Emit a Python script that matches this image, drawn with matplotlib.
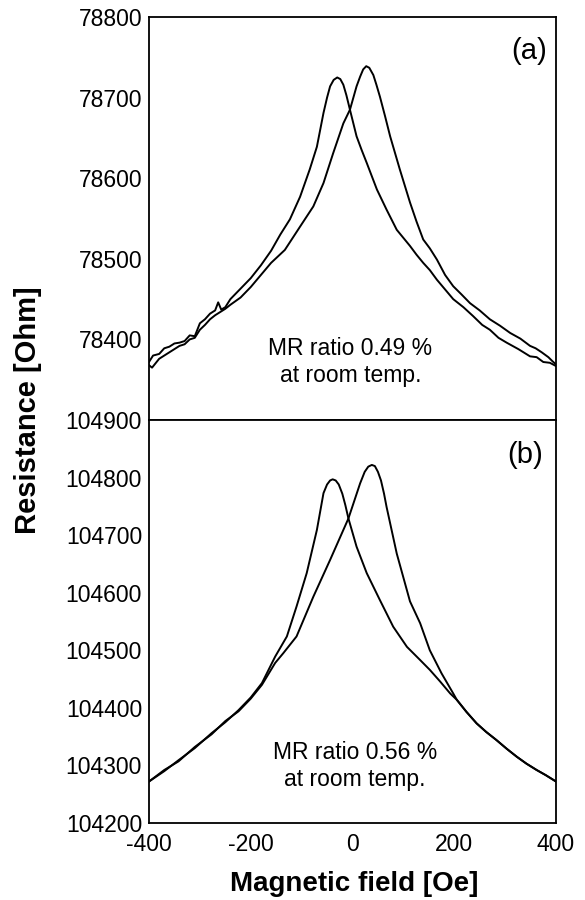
import matplotlib
matplotlib.use('Agg')
import matplotlib.pyplot as plt

plt.rcParams['font.family'] = ['Liberation Sans', 'DejaVu Sans']

# ---- panel (a): field sweep, peak on the negative side ----
a_left_x = [-400, -392, -380, -370, -360, -350, -340, -330, -320, -310, -300, -290, -280,
            -270, -264, -258, -250, -240, -220, -200, -180, -160, -142, -123, -103, -84,
            -70, -57, -50, -44, -37, -30, -24, -18, -12, -5, 8, 18, 28, 48, 67, 87, 100,
            113, 126, 139, 152, 166, 182, 198, 218, 237, 255, 270, 287, 303, 326, 349,
            362, 375, 388, 400]
a_left_y = [78372, 78380, 78382, 78389, 78391, 78395, 78396, 78398, 78405, 78404, 78420, 78425,
            78432, 78436, 78446, 78437, 78440, 78450, 78463, 78476, 78492, 78510, 78530, 78549,
            78577, 78611, 78639, 78681, 78700, 78714, 78722, 78725, 78723, 78716, 78703, 78685,
            78652, 78635, 78619, 78586, 78561, 78536, 78526, 78516, 78505, 78495, 78486, 78474,
            78462, 78450, 78440, 78429, 78418, 78412, 78402, 78396, 78388, 78379, 78378, 78372,
            78371, 78367]

# ---- panel (a): field sweep, peak on the positive side ----
a_right_x = [-400, -394, -380, -370, -360, -350, -340, -330, -320, -310, -300, -290, -280,
             -270, -260, -250, -240, -220, -200, -180, -160, -133, -103, -77, -57, -38, -18,
             -5, 8, 15, 21, 27, 33, 41, 47, 54, 64, 74, 93, 113, 126, 139, 152, 166, 182, 198,
             214, 231, 250, 270, 290, 310, 330, 349, 360, 372, 385, 393, 400]
a_right_y = [78368, 78365, 78376, 78380, 78384, 78388, 78392, 78394, 78400, 78402, 78412, 78418,
             78425, 78430, 78434, 78438, 78443, 78452, 78465, 78480, 78495, 78511, 78540, 78565,
             78594, 78631, 78668, 78685, 78714, 78726, 78735, 78739, 78737, 78728, 78716, 78701,
             78677, 78652, 78611, 78570, 78546, 78524, 78513, 78499, 78480, 78466, 78456, 78445,
             78436, 78425, 78417, 78408, 78401, 78392, 78389, 78384, 78378, 78373, 78369]

# ---- panel (b) ----
b_left_x = [-400, -370, -342, -310, -277, -250, -224, -200, -178, -152, -129, -110, -90, -70,
            -57, -50, -44, -39, -33, -27, -20, -14, -8, 8, 28, 54, 80, 107, 133, 152, 172, 192,
            205, 224, 244, 263, 283, 303, 323, 342, 362, 380, 400]
b_left_y = [104272, 104290, 104309, 104330, 104356, 104375, 104396, 104418, 104443, 104489,
            104524, 104576, 104634, 104709, 104773, 104788, 104795, 104797, 104795, 104788,
            104772, 104752, 104729, 104680, 104634, 104587, 104541, 104506, 104483, 104466,
            104446, 104425, 104414, 104393, 104373, 104358, 104344, 104329, 104315, 104303,
            104292, 104283, 104272]

b_right_x = [-400, -370, -342, -310, -277, -250, -224, -200, -178, -152, -136, -110, -77, -44,
             -8, 15, 24, 31, 38, 44, 50, 56, 62, 67, 87, 113, 133, 152, 175, 198, 205, 224, 244,
             263, 283, 303, 323, 342, 362, 380, 400]
b_right_y = [104272, 104292, 104307, 104332, 104354, 104377, 104394, 104416, 104440, 104478,
             104495, 104524, 104593, 104657, 104729, 104790, 104810, 104819, 104822, 104820,
             104810, 104795, 104772, 104749, 104668, 104585, 104547, 104500, 104460, 104425,
             104414, 104393, 104373, 104358, 104344, 104329, 104315, 104303, 104292, 104283,
             104272]

a_ticks = [78400, 78500, 78600, 78700, 78800]
b_ticks = [104200, 104300, 104400, 104500, 104600, 104700, 104800, 104900]
x_ticks = [-400, -200, 0, 200, 400]

fig = plt.figure(figsize=(5.85, 9), dpi=100)
ax1 = fig.add_axes([0.2547, 0.5333, 0.6957, 0.4478])
ax2 = fig.add_axes([0.2547, 0.0856, 0.6957, 0.4477])

ax1.plot(a_left_x, a_left_y, color='black', linewidth=1.4)
ax1.plot(a_right_x, a_right_y, color='black', linewidth=1.4)
ax2.plot(b_left_x, b_left_y, color='black', linewidth=1.4)
ax2.plot(b_right_x, b_right_y, color='black', linewidth=1.4)

ax1.set_xlim(-400, 400)
ax1.set_ylim(78300, 78800)
ax1.set_yticks(a_ticks)
ax1.set_xticks([])
ax2.set_xlim(-400, 400)
ax2.set_ylim(104200, 104900)
ax2.set_yticks(b_ticks)
ax2.set_xticks(x_ticks)
ax2.set_xticklabels([str(v) for v in x_ticks])

for ax in (ax1, ax2):
    ax.tick_params(length=0, labelsize=16.5, pad=5)
    for s in ax.spines.values():
        s.set_linewidth(1.3)

# bottom ticks sit a little lower so "-400" clears "104200"
ax2.tick_params(axis='x', pad=7.5)

ax1.text(0.978, 0.916, '(a)', transform=ax1.transAxes, ha='right', va='center', fontsize=21)
ax2.text(0.968, 0.913, '(b)', transform=ax2.transAxes, ha='right', va='center', fontsize=21)

ax1.text(-4, 78372, 'MR ratio 0.49 %\nat room temp.', ha='center', va='center',
         fontsize=16.5, linespacing=1.2)
ax2.text(5, 104299, 'MR ratio 0.56 %\nat room temp.', ha='center', va='center',
         fontsize=16.5, linespacing=1.2)

fig.text(0.048, 0.544, 'Resistance [Ohm]', rotation=90, ha='center', va='center',
         fontsize=21, fontweight='bold')
fig.text(0.605, 0.018, 'Magnetic field [Oe]', ha='center', va='center',
         fontsize=20, fontweight='bold')

fig.savefig('out.png', dpi=100)
